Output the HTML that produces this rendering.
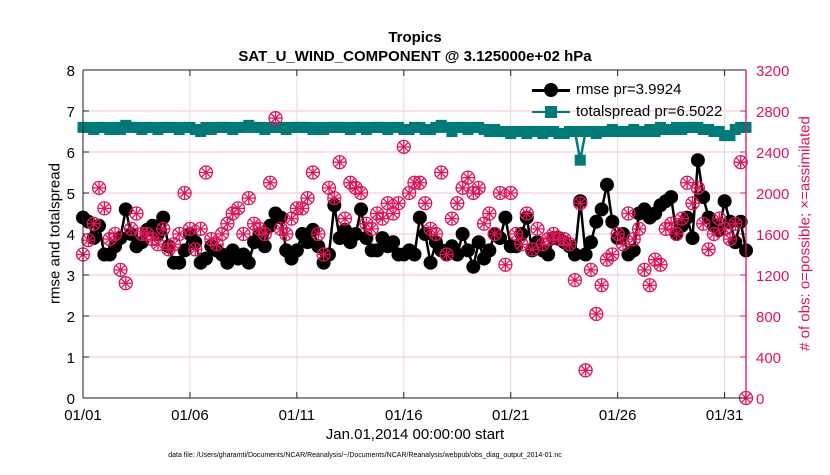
<!DOCTYPE html>
<html><head><meta charset="utf-8"><style>
body{margin:0;background:#fff;font-family:"Liberation Sans",sans-serif}
svg text{font-family:"Liberation Sans",sans-serif}
</style></head><body>
<svg id="c" width="830" height="470" xmlns="http://www.w3.org/2000/svg"></svg>
<script>
const tickDays=[0,5,10,15,20,25,30];
const tickLabels=["01/01","01/06","01/11","01/16","01/21","01/26","01/31"];
const leftTicks=[0,1,2,3,4,5,6,7,8];
const rightTicks=[0,400,800,1200,1600,2000,2400,2800,3200];
const rmse=[4.4,4.3,3.9,4.2,3.5,3.5,3.7,3.9,4.6,4.0,3.7,3.8,4.1,4.2,4.0,4.4,3.7,3.3,3.3,3.6,4.0,3.8,3.3,3.4,3.7,3.6,3.5,3.3,3.6,3.4,3.5,3.3,3.8,4.0,3.7,4.2,4.5,4.4,3.6,3.4,3.6,4.0,3.8,4.1,3.7,3.3,3.5,4.7,3.9,4.1,3.8,4.0,4.6,3.9,3.6,3.6,3.9,3.7,3.8,3.5,3.5,3.6,3.5,4.4,4.0,3.3,3.8,3.6,3.5,3.7,3.5,4.0,3.6,3.2,3.8,3.4,3.6,4.0,3.9,4.4,3.7,3.7,4.0,4.4,3.6,3.8,3.6,3.5,3.9,3.9,3.8,3.7,3.5,4.8,3.5,3.8,4.3,4.6,5.2,4.3,3.9,4.0,3.5,3.6,4.5,4.6,4.4,4.5,4.7,4.8,4.9,4.0,4.2,4.4,3.9,5.8,4.9,4.4,4.2,4.1,4.8,4.3,3.8,4.3,3.6];
const spread=[6.6,6.6,6.55,6.6,6.6,6.55,6.6,6.55,6.65,6.6,6.6,6.55,6.6,6.6,6.55,6.6,6.6,6.6,6.55,6.6,6.6,6.55,6.5,6.6,6.55,6.6,6.6,6.6,6.55,6.6,6.6,6.65,6.6,6.6,6.55,6.6,6.6,6.6,6.55,6.6,6.6,6.6,6.6,6.55,6.6,6.55,6.6,6.6,6.6,6.6,6.55,6.6,6.6,6.55,6.6,6.6,6.6,6.55,6.6,6.6,6.55,6.55,6.6,6.6,6.55,6.55,6.6,6.65,6.6,6.5,6.6,6.6,6.55,6.6,6.6,6.55,6.5,6.55,6.5,6.5,6.45,6.5,6.5,6.45,6.5,6.5,6.45,6.5,6.5,6.45,6.45,6.5,6.5,5.8,6.5,6.5,6.45,6.5,6.5,6.55,6.5,6.5,6.5,6.55,6.5,6.5,6.55,6.5,6.6,6.55,6.55,6.6,6.55,6.6,6.6,6.6,6.55,6.55,6.5,6.5,6.4,6.4,6.55,6.6,6.6];
const obs=[1400,1540,1700,2050,1850,1550,1600,1250,1120,1650,1800,1600,1600,1550,1500,1650,1450,1500,1600,2000,1650,1450,1650,2200,1550,1500,1600,1700,1800,1850,1600,1950,1700,1650,1600,2100,2730,1650,1600,1750,1850,1850,1950,2200,1600,1400,2050,1950,2300,1750,2100,2050,2000,1700,1650,1800,1750,1900,1800,1900,2450,2000,2100,2100,1900,1650,1600,2200,1400,1750,1900,2050,2150,2000,2050,1700,1800,1600,2000,1300,2000,1600,1500,1800,1450,1650,1500,1550,1600,1550,1550,1500,1150,1900,270,1250,820,1100,1350,1400,1600,1500,1800,1550,1650,1250,1100,1350,1300,1650,1700,1600,1750,2100,1900,2050,1700,1450,1600,1750,1650,1550,1700,2300,0];
const NS="http://www.w3.org/2000/svg",svg=document.getElementById("c");
const X0=83,X1=746,Y0=398,Y1=70,RED="#e0145a",TEAL="#007a78";
const xs=d=>X0+d*(X1-X0)/31, yl=v=>Y0-v*(Y0-Y1)/8, yr=v=>Y0-v*(Y0-Y1)/3200;
function mk(t,a,p){const e=document.createElementNS(NS,t);for(const k in a)e.setAttribute(k,a[k]);(p||svg).appendChild(e);return e;}
rightTicks.forEach(v=>{const l=mk("line",{x1:X0,x2:X1,y1:yr(v),y2:yr(v),stroke:"#f2c6d6","stroke-width":1});

});
tickDays.forEach((d,i)=>{const l=mk("line",{x1:xs(d),x2:xs(d),y1:Y1,y2:Y0,stroke:"#dcdcdc","stroke-width":1});


const t=mk("text",{x:xs(d),y:Y0+22,"text-anchor":"middle","font-size":15});t.textContent=tickLabels[i];


mk("line",{x1:xs(d),x2:xs(d),y1:Y0,y2:Y0-6,stroke:"#222"});mk("line",{x1:xs(d),x2:xs(d),y1:Y1,y2:Y1+6,stroke:"#222"});});
leftTicks.forEach(v=>{const t=mk("text",{x:X0-8,y:yl(v)+6,"text-anchor":"end","font-size":15});t.textContent=v;


mk("line",{x1:X0,x2:X0+6,y1:yl(v),y2:yl(v),stroke:"#222"});});
rightTicks.forEach(v=>{const t=mk("text",{x:X1+10,y:yr(v)+6,"font-size":15,fill:RED});t.textContent=v;


mk("line",{x1:X1,x2:X1-6,y1:yr(v),y2:yr(v),stroke:RED});});
const sp=spread.map((v,i)=>xs(i/4)+","+yl(v)).join(" ");
const sl=mk("polyline",{points:sp,fill:"none",stroke:TEAL,"stroke-width":2.5});


spread.forEach((v,i)=>{const r=mk("rect",{x:xs(i/4)-5.5,y:yl(v)-5.5,width:11,height:11,fill:TEAL});

});
const rl=mk("polyline",{points:rmse.map((v,i)=>xs(i/4)+","+yl(v)).join(" "),fill:"none",stroke:"#000","stroke-width":2.5});


rmse.forEach((v,i)=>{const c=mk("circle",{cx:xs(i/4),cy:yl(v),r:7,fill:"#000"});

});
obs.forEach((v,i)=>{const g=mk("g",{stroke:RED,"stroke-width":1.3,fill:"none"});


const cx=xs(i/4),cy=yr(v);mk("circle",{cx,cy,r:6.5},g);
[0,45,90,135].forEach(a=>{const r=a*Math.PI/180,dx=6.5*Math.cos(r),dy=6.5*Math.sin(r);mk("line",{x1:cx-dx,y1:cy-dy,x2:cx+dx,y2:cy+dy},g);});});
mk("line",{x1:X0,x2:X1,y1:Y0,y2:Y0,stroke:"#2a1a1a"});mk("line",{x1:X0,x2:X1,y1:Y1,y2:Y1,stroke:"#2a1a1a"});
mk("line",{x1:X0,x2:X0,y1:Y1,y2:Y0,stroke:"#2a1a1a"});mk("line",{x1:X1,x2:X1,y1:Y1,y2:Y0,stroke:RED,"stroke-width":1.3});
</script>
<div style="position:absolute;left:0;top:0;width:830px;height:470px;pointer-events:none">
<div style="position:absolute;left:0;width:830px;top:28px;text-align:center;font-weight:bold;font-size:15px;line-height:19px">Tropics<br>SAT_U_WIND_COMPONENT @ 3.125000e+02 hPa</div>
<div style="position:absolute;left:230px;width:370px;top:426px;text-align:center;font-size:15px">Jan.01,2014 00:00:00 start</div>
<div style="position:absolute;left:0;width:830px;top:452px;text-align:center;font-size:7px;margin-left:-50px">data file: /Users/gharamti/Documents/NCAR/Reanalysis/~/Documents/NCAR/Reanalysis/webpub/obs_diag_output_2014-01.nc</div>
<div style="position:absolute;left:-45px;top:225px;width:200px;text-align:center;font-size:15px;transform:rotate(-90deg)">rmse and totalspread</div>
<div style="position:absolute;left:655px;top:225px;width:300px;text-align:center;font-size:15px;color:#e0145a;transform:rotate(-90deg)"># of obs: o=possible; ×=assimilated</div>
<div style="position:absolute;left:532px;top:80px;width:200px;font-size:15px">
<div style="height:22px;position:relative"><span style="position:absolute;left:0;top:9px;width:38px;height:2.5px;background:#000"></span><span style="position:absolute;left:12px;top:3px;width:14px;height:14px;border-radius:50%;background:#000"></span><span style="position:absolute;left:44px;top:1px">rmse pr=3.9924</span></div>
<div style="height:22px;position:relative"><span style="position:absolute;left:0;top:9px;width:38px;height:2px;background:#007a78"></span><span style="position:absolute;left:13px;top:4px;width:12px;height:12px;background:#007a78"></span><span style="position:absolute;left:44px;top:1px">totalspread pr=6.5022</span></div>
</div></div>
</body></html>
